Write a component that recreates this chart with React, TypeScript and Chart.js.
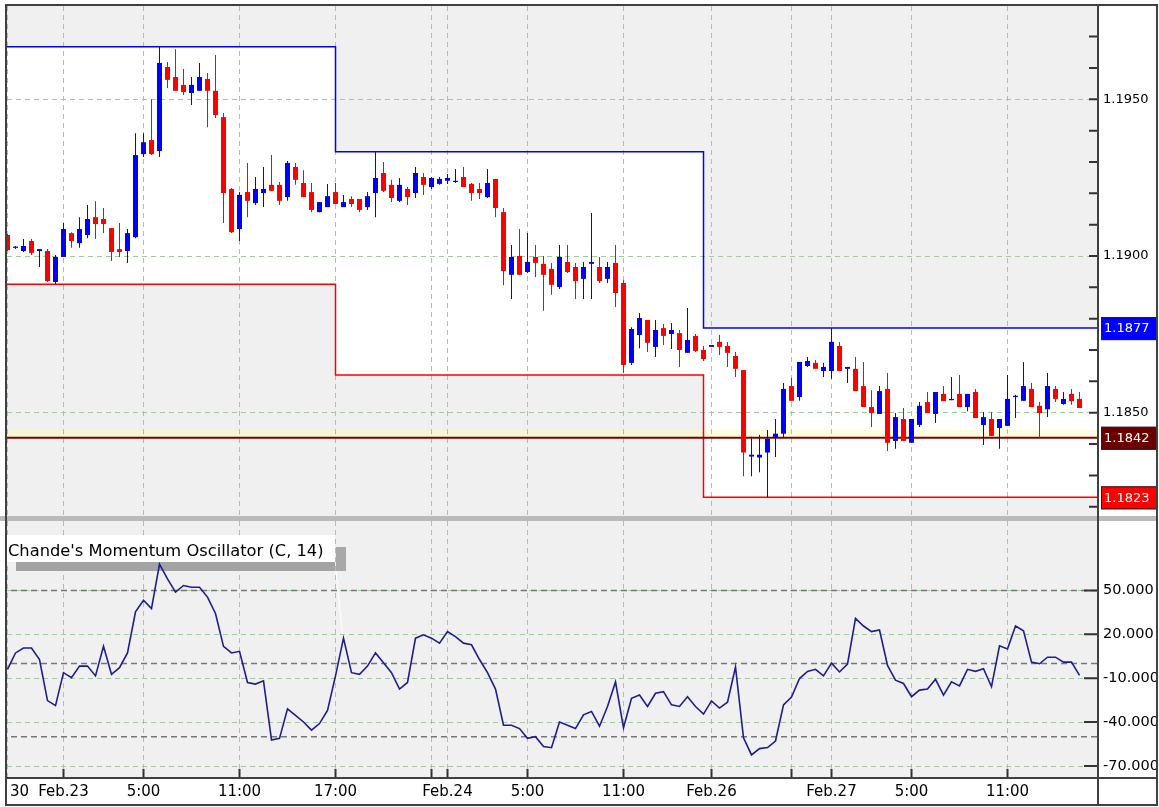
import React, { useEffect, useRef } from 'react';
import { Chart, registerables } from 'chart.js';

Chart.register(...registerables);

// ---------------- DATA ----------------
const opens = [
  1.19067, 1.19026, 1.19016, 1.19048, 1.19016, 1.19016, 1.18917, 1.18997, 1.19073, 1.19041,
  1.19067, 1.19124, 1.19118, 1.19089, 1.19022, 1.19016, 1.19060, 1.19325, 1.19370, 1.19335,
  1.19603, 1.19571, 1.19546, 1.19520, 1.19527, 1.19565, 1.19527, 1.19443, 1.19214, 1.19086,
  1.19204, 1.19169, 1.19201, 1.19227, 1.19227, 1.19188, 1.19284, 1.19233, 1.19204, 1.19140,
  1.19156, 1.19204, 1.19156, 1.19182, 1.19182, 1.19156, 1.19201, 1.19265, 1.19227, 1.19176,
  1.19214, 1.19201, 1.19252, 1.19220, 1.19230, 1.19240, 1.19236, 1.19252, 1.19230, 1.19214,
  1.19188, 1.19246, 1.19140, 1.18940, 1.19000, 1.18949, 1.18997, 1.18975, 1.18959, 1.18901,
  1.18981, 1.18965, 1.18927, 1.18975, 1.18965, 1.18927, 1.18978, 1.18914, 1.18659, 1.18748,
  1.18796, 1.18710, 1.18770, 1.18751, 1.18754, 1.18691, 1.18745, 1.18700, 1.18710, 1.18726,
  1.18713, 1.18681, 1.18636, 1.18360, 1.18357, 1.18373, 1.18420, 1.18433, 1.18585, 1.18550,
  1.18649, 1.18659, 1.18633, 1.18633, 1.18713, 1.18640, 1.18640, 1.18585, 1.18518, 1.18496,
  1.18576, 1.18410, 1.18480, 1.18404, 1.18461, 1.18534, 1.18496, 1.18560, 1.18540, 1.18560,
  1.18518, 1.18566, 1.18461, 1.18480, 1.18451, 1.18458, 1.18550, 1.18538, 1.18576, 1.18522,
  1.18511, 1.18576, 1.18528, 1.18560, 1.18544,
];

const highs = [
  1.19070, 1.19032, 1.19054, 1.19054, 1.19022, 1.19022, 1.19003, 1.19105, 1.19076, 1.19124,
  1.19163, 1.19175, 1.19153, 1.19089, 1.19105, 1.19086, 1.19392, 1.19392, 1.19500, 1.19667,
  1.19619, 1.19660, 1.19597, 1.19571, 1.19616, 1.19584, 1.19641, 1.19456, 1.19217, 1.19204,
  1.19297, 1.19252, 1.19284, 1.19322, 1.19236, 1.19303, 1.19297, 1.19274, 1.19233, 1.19172,
  1.19230, 1.19233, 1.19195, 1.19191, 1.19182, 1.19204, 1.19333, 1.19300, 1.19243, 1.19249,
  1.19220, 1.19284, 1.19265, 1.19252, 1.19252, 1.19262, 1.19278, 1.19284, 1.19233, 1.19233,
  1.19278, 1.19246, 1.19153, 1.19035, 1.19086, 1.19073, 1.19035, 1.19000, 1.18978, 1.19035,
  1.19035, 1.18978, 1.18981, 1.19137, 1.18997, 1.18981, 1.19035, 1.18923, 1.18773, 1.18818,
  1.18796, 1.18796, 1.18783, 1.18786, 1.18764, 1.18834, 1.18751, 1.18713, 1.18716, 1.18748,
  1.18726, 1.18694, 1.18636, 1.18423, 1.18429, 1.18445, 1.18480, 1.18595, 1.18611, 1.18662,
  1.18678, 1.18668, 1.18659, 1.18770, 1.18726, 1.18646, 1.18678, 1.18662, 1.18572, 1.18585,
  1.18627, 1.18499, 1.18515, 1.18480, 1.18534, 1.18566, 1.18566, 1.18585, 1.18614, 1.18620,
  1.18560, 1.18576, 1.18502, 1.18502, 1.18480, 1.18620, 1.18557, 1.18662, 1.18595, 1.18534,
  1.18627, 1.18585, 1.18566, 1.18576, 1.18566,
];

const lows = [
  1.19016, 1.19022, 1.19013, 1.19003, 1.18965, 1.18917, 1.18911, 1.18997, 1.19026, 1.19026,
  1.19057, 1.19054, 1.19073, 1.18984, 1.18997, 1.18978, 1.19057, 1.19316, 1.19322, 1.19316,
  1.19536, 1.19527, 1.19514, 1.19482, 1.19527, 1.19411, 1.19440, 1.19105, 1.19073, 1.19048,
  1.19124, 1.19163, 1.19156, 1.19208, 1.19163, 1.19176, 1.19227, 1.19188, 1.19140, 1.19140,
  1.19156, 1.19166, 1.19156, 1.19156, 1.19140, 1.19147, 1.19124, 1.19204, 1.19172, 1.19172,
  1.19163, 1.19185, 1.19195, 1.19214, 1.19227, 1.19230, 1.19233, 1.19220, 1.19176, 1.19182,
  1.19185, 1.19124, 1.18907, 1.18863, 1.18940, 1.18946, 1.18933, 1.18825, 1.18876, 1.18895,
  1.18946, 1.18863, 1.18863, 1.18863, 1.18914, 1.18914, 1.18837, 1.18627, 1.18652, 1.18706,
  1.18694, 1.18678, 1.18716, 1.18703, 1.18646, 1.18691, 1.18694, 1.18665, 1.18710, 1.18684,
  1.18646, 1.18614, 1.18297, 1.18297, 1.18310, 1.18230, 1.18359, 1.18420, 1.18538, 1.18538,
  1.18646, 1.18640, 1.18614, 1.18608, 1.18633, 1.18595, 1.18569, 1.18518, 1.18454, 1.18496,
  1.18378, 1.18385, 1.18410, 1.18404, 1.18454, 1.18499, 1.18467, 1.18537, 1.18540, 1.18518,
  1.18505, 1.18483, 1.18397, 1.18426, 1.18385, 1.18458, 1.18483, 1.18538, 1.18518, 1.18416,
  1.18486, 1.18534, 1.18525, 1.18525, 1.18515,
];

const closes = [
  1.19019, 1.19030, 1.19032, 1.19010, 1.19022, 1.18920, 1.18997, 1.19086, 1.19048, 1.19086,
  1.19118, 1.19102, 1.19102, 1.19013, 1.19013, 1.19073, 1.19322, 1.19363, 1.19325, 1.19616,
  1.19562, 1.19527, 1.19523, 1.19546, 1.19571, 1.19527, 1.19450, 1.19201, 1.19076, 1.19195,
  1.19176, 1.19214, 1.19214, 1.19208, 1.19176, 1.19297, 1.19243, 1.19188, 1.19147, 1.19172,
  1.19191, 1.19166, 1.19172, 1.19166, 1.19147, 1.19191, 1.19249, 1.19208, 1.19185, 1.19227,
  1.19188, 1.19265, 1.19227, 1.19249, 1.19246, 1.19249, 1.19240, 1.19220, 1.19201, 1.19201,
  1.19233, 1.19153, 1.18952, 1.18997, 1.18940, 1.18981, 1.18978, 1.18940, 1.18908, 1.18997,
  1.18949, 1.18920, 1.18965, 1.18981, 1.18920, 1.18965, 1.18882, 1.18652, 1.18767, 1.18802,
  1.18723, 1.18764, 1.18745, 1.18764, 1.18700, 1.18732, 1.18697, 1.18671, 1.18716, 1.18710,
  1.18691, 1.18640, 1.18373, 1.18366, 1.18366, 1.18417, 1.18433, 1.18576, 1.18538, 1.18662,
  1.18665, 1.18640, 1.18646, 1.18726, 1.18633, 1.18646, 1.18569, 1.18518, 1.18499, 1.18569,
  1.18404, 1.18486, 1.18410, 1.18480, 1.18522, 1.18499, 1.18566, 1.18537, 1.18544, 1.18518,
  1.18560, 1.18483, 1.18486, 1.18426, 1.18480, 1.18544, 1.18554, 1.18585, 1.18518, 1.18499,
  1.18585, 1.18544, 1.18544, 1.18537, 1.18515,
];

// Chande's Momentum Oscillator (C, 14)
const cmoValues = [
  -3.9, 7.3, 10.7, 10.7, 2.8, -25.3, -28.7, -6.2, -9.6, -1.7,
  -1.7, -8.4, 11.8, -7.3, -2.8, 7.3, 35.4, 43.3, 37.6, 68,
  57.9, 48.9, 53.4, 52.2, 52.2, 45.5, 34.3, 11.8, 7.3, 8.4,
  -12.9, -14, -11.8, -52.2, -51.1, -30.9, -35.4, -39.9, -45.5, -41,
  -32, -8.4, 17.4, -6.2, -7.3, -1.7, 7.3, 0.6, -6.2, -17.4,
  -12.9, 17.4, 19.7, 17.4, 14, 21.9, 18.5, 14, 12.9, 2.8,
  -6.2, -17.4, -42.1, -42.1, -44.4, -51.1, -50, -56.7, -57.5, -40,
  -42.1, -44.4, -35, -32.7, -42.8, -29.3, -12.5, -43.9, -23.7, -21.5,
  -29.3, -20.3, -19.2, -28.2, -29.3, -22.6, -29.3, -34.5, -25.5, -30.4,
  -26.4, -2.4, -50.7, -62.4, -58.1, -57.4, -52.9, -28.2, -22.8, -10.2,
  -5.3, -3.9, -8.4, 0.3, -5.7, -0.3, 30.9, 25.7, 21.9, 23,
  -1.2, -11.3, -13.6, -22.6, -18.1, -17.4, -10.7, -21.5, -12.5, -15.2,
  -3.9, -5.3, -3.5, -15.8, 12.2, 10, 25.7, 22.4, 1, -0.1,
  4.4, 4.4, 1, 1, -8,
];

// x axis (bar index) ticks and labels
const xTickIdx = [0, 7, 17, 29, 41, 53, 55, 65, 77, 88, 98, 103, 113, 125];
const xTickLabels = ['20:30', 'Feb.23', '5:00', '11:00', '17:00', '', 'Feb.24', '5:00', '11:00', 'Feb.26', '', 'Feb.27', '5:00', '11:00'];

// daily high / low boxes
const dayBounds = [-2, 41, 87, 140];
const dayHighs = [1.19668, 1.19333, 1.1877];
const dayLows = [1.1891, 1.1862, 1.1823];

// horizontal price line + band
const priceLine = 1.1842;
const priceBandTop = 1.18445;

// right-axis price markers
const markerValues = [1.1877, 1.1842, 1.1823];
const markerColors = ['#0000ff', '#6b0000', '#ff0000'];

// price axis ticks (minor every 0.001, labelled every 0.005)
const priceTicks = [1.182, 1.183, 1.184, 1.185, 1.186, 1.187, 1.188, 1.189, 1.19, 1.191, 1.192, 1.193, 1.194, 1.195, 1.196, 1.197];

// oscillator axis ticks + levels
const cmoTicks = [50, 20, -10, -40, -70];
const cmoLevels = [50, 0, -50];

const indicatorTitle = "Chande's Momentum Oscillator (C, 14)";

// ---------------- STYLE / RANGES ----------------
const FONT = "'DejaVu Sans', sans-serif";
const GRID_GREEN = '#9fcb9f';
const FRAME = '#404040';
const X_MIN = -0.0625;
const X_MAX = 136.3125;
const PRICE_MIN = 1.181736;
const PRICE_MAX = 1.197977;
const CMO_MIN = -78.2;
const CMO_MAX = 97.5;

Chart.defaults.font.family = FONT;

const isMajorPrice = (v: number) => Math.abs(Math.round(v * 200) - v * 200) < 1e-6;

function stepPoints(levels: number[]) {
  const pts: { x: number; y: number }[] = [];
  levels.forEach((lv, d) => {
    pts.push({ x: dayBounds[d], y: lv });
    pts.push({ x: dayBounds[d + 1], y: lv });
  });
  return pts;
}

function frameLines(ctx: CanvasRenderingContext2D, segs: number[][]) {
  ctx.save();
  ctx.strokeStyle = FRAME;
  ctx.lineWidth = 2;
  ctx.beginPath();
  segs.forEach(([x1, y1, x2, y2]) => {
    ctx.moveTo(x1, y1);
    ctx.lineTo(x2, y2);
  });
  ctx.stroke();
  ctx.restore();
}

const upperDeco = {
  id: 'upperDeco',
  beforeDraw(chart: any) {
    const { ctx, chartArea: a, width, height } = chart;
    ctx.save();
    ctx.fillStyle = '#ffffff';
    ctx.fillRect(0, 0, width, a.top);
    ctx.fillRect(0, 0, a.left, height);
    ctx.fillRect(a.right, 0, width - a.right, height);
    ctx.restore();
  },
  afterDraw(chart: any) {
    const { ctx, chartArea: a, height } = chart;
    const ys = chart.scales.y;
    ctx.save();
    ctx.fillStyle = '#ffffff';
    ctx.fillRect(0, 0, 6, height);
    // inward tick marks
    ctx.strokeStyle = '#333';
    ctx.lineWidth = 2;
    ctx.beginPath();
    ys.ticks.forEach((_t: any, i: number) => {
      const y = ys.getPixelForTick(i);
      ctx.moveTo(a.right - 9, y);
      ctx.lineTo(a.right, y);
    });
    ctx.stroke();
    // markers
    ctx.font = `13px ${FONT}`;
    ctx.textBaseline = 'middle';
    ctx.textAlign = 'left';
    markerValues.forEach((v, k) => {
      const y = ys.getPixelForValue(v);
      ctx.fillStyle = markerColors[k];
      ctx.fillRect(a.right + 3, y - 11, 56, 23);
      ctx.strokeStyle = '#222';
      ctx.lineWidth = 1;
      ctx.strokeRect(a.right + 3.5, y - 10.5, 55, 22);
      ctx.fillStyle = '#ffffff';
      ctx.fillText(v.toFixed(4), a.right + 6, y + 1);
    });
    ctx.restore();
    frameLines(ctx, [
      [5, 5, 1158, 5],
      [6, 4, 6, height],
      [1157, 4, 1157, height],
      [a.right, 4, a.right, height],
    ]);
  },
};

const lowerDeco = {
  id: 'lowerDeco',
  beforeDraw(chart: any) {
    const { ctx, chartArea: a, width, height } = chart;
    ctx.save();
    ctx.fillStyle = '#ffffff';
    ctx.fillRect(0, 0, a.left, height);
    ctx.fillRect(a.right, 0, width - a.right, height);
    ctx.fillRect(0, a.bottom, width, height - a.bottom);
    ctx.fillStyle = '#bababa';
    ctx.fillRect(6, 1, 1152, 5);
    ctx.restore();
  },
  beforeDatasetsDraw(chart: any) {
    const { ctx } = chart;
    ctx.save();
    // indicator title box
    ctx.fillStyle = '#ffffff';
    ctx.fillRect(7, 20, 328, 27);
    let size = 16;
    ctx.font = `${size}px ${FONT}`;
    const w = ctx.measureText(indicatorTitle).width;
    size = (size * 316) / w;
    ctx.font = `${size.toFixed(2)}px ${FONT}`;
    ctx.fillStyle = '#000';
    ctx.textBaseline = 'alphabetic';
    ctx.textAlign = 'left';
    ctx.fillText(indicatorTitle, 8, 40.5);
    ctx.fillStyle = '#a3a3a3';
    ctx.fillRect(16, 47, 319, 9);
    ctx.fillStyle = '#a8a8a8';
    ctx.fillRect(336, 32, 10, 24);
    ctx.strokeStyle = '#ffffff';
    ctx.lineWidth = 1;
    ctx.beginPath();
    ctx.moveTo(336, 56);
    ctx.lineTo(342.5, 119);
    ctx.stroke();
    ctx.restore();
  },
  afterDraw(chart: any) {
    const { ctx, chartArea: a, height } = chart;
    const ys = chart.scales.y;
    const xs = chart.scales.x;
    ctx.save();
    ctx.fillStyle = '#ffffff';
    ctx.fillRect(0, 0, 6, height);
    ctx.fillRect(0, a.bottom, 9.5, height - a.bottom);
    ctx.fillStyle = '#bababa';
    ctx.fillRect(0, 1, 7, 5);
    ctx.strokeStyle = '#333';
    ctx.lineWidth = 2;
    ctx.beginPath();
    ys.ticks.forEach((_t: any, i: number) => {
      const y = ys.getPixelForTick(i);
      ctx.moveTo(a.right - 14, y);
      ctx.lineTo(a.right, y);
    });
    xs.ticks.forEach((_t: any, i: number) => {
      const x = xs.getPixelForTick(i);
      if (x < a.left + 2) return;
      ctx.moveTo(x, a.bottom - 9);
      ctx.lineTo(x, a.bottom);
    });
    ctx.stroke();
    ctx.restore();
    frameLines(ctx, [
      [6, 0, 6, 291],
      [1157, 0, 1157, 291],
      [a.right, 0, a.right, 291],
      [5, a.bottom, 1158, a.bottom],
      [5, 290, 1158, 290],
    ]);
  },
};

export default function App() {
  const upRef = useRef<HTMLCanvasElement>(null);
  const loRef = useRef<HTMLCanvasElement>(null);

  useEffect(() => {
    const colors = opens.map((o, i) => (closes[i] > o ? '#0000ff' : '#ff0000'));
    const bodies = opens.map((o, i) => ({ x: i, y: [o, closes[i]] }));
    const wicks = lows.map((l, i) => ({ x: i, y: [l, highs[i]] }));
    const span = (v: number) => [
      { x: X_MIN - 2, y: v },
      { x: X_MAX + 2, y: v },
    ];

    const xTickCallback = (v: any) => {
      const k = xTickIdx.indexOf(Number(v));
      return k >= 0 ? xTickLabels[k] : '';
    };

    const upper = new Chart(upRef.current as HTMLCanvasElement, {
      type: 'bar',
      data: {
        datasets: [
          {
            type: 'bar',
            data: bodies as any,
            backgroundColor: colors,
            barThickness: 5,
            maxBarThickness: 5,
            grouped: false,
            inflateAmount: 0,
            minBarLength: 1,
            borderWidth: 0,
            order: 0,
          } as any,
          {
            type: 'bar',
            data: wicks as any,
            backgroundColor: colors,
            barThickness: 1,
            maxBarThickness: 1,
            grouped: false,
            inflateAmount: 0,
            borderWidth: 0,
            order: 1,
          } as any,
          {
            type: 'line',
            data: span(priceLine),
            borderColor: '#800000',
            borderWidth: 2,
            pointRadius: 0,
            fill: false,
            order: 2,
          } as any,
          {
            type: 'line',
            data: span(priceBandTop),
            borderWidth: 0,
            borderColor: 'rgba(0,0,0,0)',
            backgroundColor: 'rgba(255,250,185,0.45)',
            pointRadius: 0,
            fill: { value: priceLine },
            order: 3,
          } as any,
          {
            type: 'line',
            data: stepPoints(dayHighs),
            borderColor: '#0000ff',
            borderWidth: 1.5,
            backgroundColor: '#ffffff',
            pointRadius: 0,
            fill: '+1',
            order: 4,
          } as any,
          {
            type: 'line',
            data: stepPoints(dayLows),
            borderColor: '#ff0000',
            borderWidth: 1.5,
            pointRadius: 0,
            fill: false,
            order: 5,
          } as any,
        ],
      },
      options: {
        animation: false,
        responsive: false,
        maintainAspectRatio: false,
        events: [],
        layout: { padding: { left: 7, top: 6, right: 0, bottom: 0 } },
        plugins: {
          legend: { display: false },
          tooltip: { enabled: false },
          filler: { drawTime: 'beforeDraw', propagate: false },
        } as any,
        scales: {
          x: {
            type: 'linear',
            min: X_MIN,
            max: X_MAX,
            offset: false,
            afterBuildTicks: (s: any) => {
              s.ticks = xTickIdx.map((v) => ({ value: v }));
            },
            afterFit: (s: any) => {
              s.height = 0;
              s.paddingLeft = 0;
              s.paddingRight = 0;
            },
            ticks: { display: false },
            grid: { color: GRID_GREEN, drawTicks: false, offset: false, lineWidth: 1 },
            border: { display: false, dash: [5, 4] },
          },
          y: {
            type: 'linear',
            position: 'right',
            min: PRICE_MIN,
            max: PRICE_MAX,
            afterBuildTicks: (s: any) => {
              s.ticks = priceTicks.map((v) => ({ value: v }));
            },
            afterFit: (s: any) => {
              s.width = 61;
              s.paddingTop = 0;
              s.paddingBottom = 0;
            },
            ticks: {
              autoSkip: false,
              padding: 5,
              color: '#000',
              font: { family: FONT, size: 13 },
              callback: (v: any) => (isMajorPrice(Number(v)) ? Number(v).toFixed(4) : ''),
            },
            grid: {
              drawTicks: false,
              lineWidth: 1,
              color: (c: any) => (c.tick && isMajorPrice(c.tick.value) ? GRID_GREEN : 'rgba(0,0,0,0)'),
            },
            border: { display: false, dash: [5, 4] },
          },
        } as any,
      },
      plugins: [upperDeco],
    } as any);

    const lower = new Chart(loRef.current as HTMLCanvasElement, {
      type: 'line',
      data: {
        datasets: [
          {
            data: cmoValues.map((v, i) => ({ x: i, y: v })),
            borderColor: '#1e1e8c',
            borderWidth: 1.6,
            pointRadius: 0,
            tension: 0,
            fill: false,
            order: 0,
          },
          ...cmoLevels.map((lv, k) => ({
            data: span(lv),
            borderColor: '#767676',
            borderWidth: 1.5,
            borderDash: [6, 4],
            pointRadius: 0,
            fill: false,
            order: 1 + k,
          })),
        ] as any,
      },
      options: {
        animation: false,
        responsive: false,
        maintainAspectRatio: false,
        events: [],
        layout: { padding: { left: 7, top: 6, right: 0, bottom: 2 } },
        plugins: { legend: { display: false }, tooltip: { enabled: false } },
        scales: {
          x: {
            type: 'linear',
            min: X_MIN,
            max: X_MAX,
            offset: false,
            afterBuildTicks: (s: any) => {
              s.ticks = xTickIdx.map((v) => ({ value: v }));
            },
            afterFit: (s: any) => {
              s.height = 27;
              s.paddingLeft = 0;
              s.paddingRight = 0;
            },
            ticks: {
              autoSkip: false,
              maxRotation: 0,
              minRotation: 0,
              padding: 5,
              color: '#000',
              font: { family: FONT, size: 15 },
              callback: xTickCallback,
            },
            grid: { color: GRID_GREEN, drawTicks: false, offset: false, lineWidth: 1 },
            border: { display: false, dash: [5, 4] },
          },
          y: {
            type: 'linear',
            position: 'right',
            min: CMO_MIN,
            max: CMO_MAX,
            afterBuildTicks: (s: any) => {
              s.ticks = cmoTicks.map((v) => ({ value: v }));
            },
            afterFit: (s: any) => {
              s.width = 61;
              s.paddingTop = 0;
              s.paddingBottom = 0;
            },
            ticks: {
              autoSkip: false,
              padding: 5,
              color: '#000',
              font: { family: FONT, size: 14.5 },
              callback: (v: any) => Number(v).toFixed(3),
            },
            grid: { color: GRID_GREEN, drawTicks: false, lineWidth: 1 },
            border: { display: false, dash: [5, 4] },
          },
        } as any,
      },
      plugins: [lowerDeco],
    } as any);

    return () => {
      upper.destroy();
      lower.destroy();
    };
  }, []);

  return (
    <div style={{ position: 'absolute', left: 0, top: 0, width: 1159, height: 807, background: '#ffffff', overflow: 'hidden' }}>
      <canvas
        ref={upRef}
        width={1159}
        height={515}
        style={{ position: 'absolute', left: 0, top: 0, width: 1159, height: 515, background: '#f0f0f0' }}
      />
      <canvas
        ref={loRef}
        width={1159}
        height={292}
        style={{ position: 'absolute', left: 0, top: 515, width: 1159, height: 292, background: '#f0f0f0' }}
      />
    </div>
  );
}
